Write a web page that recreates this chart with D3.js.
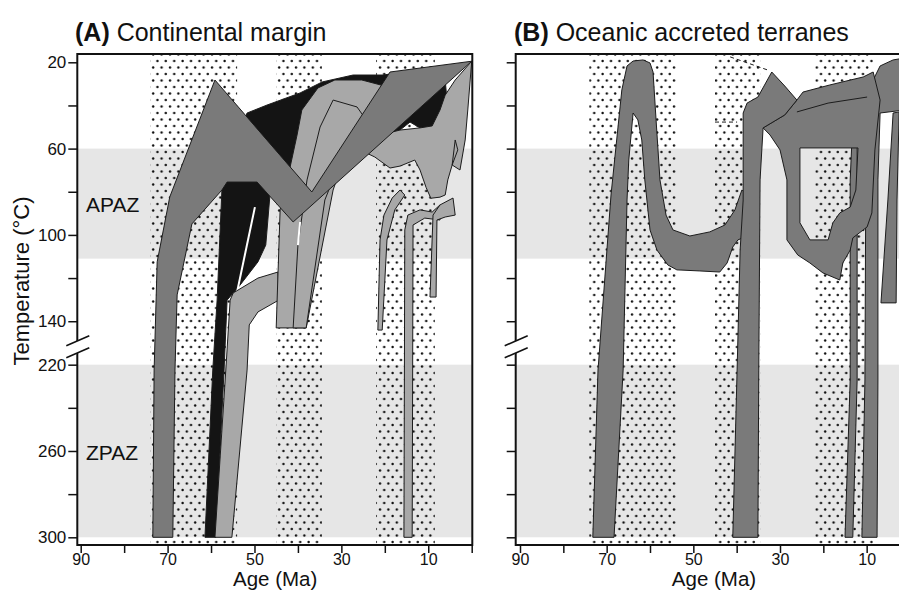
<!DOCTYPE html>
<html><head><meta charset="utf-8">
<script src="https://cdn.jsdelivr.net/npm/d3@7"></script>
<style>body{margin:0;background:#fff}svg{display:block;font-family:"Liberation Sans",Arial,Helvetica,sans-serif}</style>
</head><body><svg id="c" width="899" height="590"></svg>
<script>
// ---------- data ----------
const xTicks=[90,80,70,60,50,40,30,20,10,0];
const xLabels=[90,70,50,30,10];
const yTicks=[20,40,60,80,100,120,140,220,240,260,280,300];
const yLabels=[20,60,100,140,220,260,300];
const zoneNames=["APAZ","ZPAZ"];
const zoneTop=[60,220];
const zoneBottom=[111,300];
const zoneLabelT=[86.1,260.5];
const stippleOld=[74,45,22];
const stippleYoung=[54,34.5,8.5];
const panelTitles=[["(A)"," Continental margin"],["(B)"," Oceanic accreted terranes"]];

// Panel A paths [Ma, °C]
const contBlack=[[61.4,300],[59.6,222.5],[58.6,130.2],[57.5,79.2],[55.2,60.6],[51.7,43.5],[47.1,39.8],[39.5,34.2],[34.4,29.1],[27.3,25.9],[20.4,25.9],[11.9,23.6],[6.1,28.2],[5.7,37.5],[7.3,44.4],[9.1,49.5],[11.9,50.4],[14.2,47.7],[16.5,51.4],[23.4,60.6],[31.5,65.3],[39.5,83.8],[46.4,80.6],[47.4,104.7],[49.2,112.5],[53.3,123.2],[56.3,130.2],[57.0,222.5],[58.9,300]];
const contBlackGap=[[49.9,87.1],[54.0,126.4]];
const contLightLower=[[59.1,300],[56.6,222.5],[55.6,130.2],[54.9,126.9],[49.2,120.0],[44.6,117.2],[44.4,130.2],[49.2,135.7],[51.2,141.7],[51.7,222.5],[55.2,300]];
const contLightMid=[[45.0,143.1],[44.1,88.4],[42.7,76.9],[40.2,53.7],[39.1,42.1],[35.4,31.9],[31.5,28.2],[25.3,28.2],[20.0,31.0],[18.8,37.5],[23.4,42.1],[28.0,56.0],[31.9,79.2],[38.1,143.1]];
const contLightMid2=[[41.1,143.1],[40.0,104.7],[37.9,74.5],[34.9,50.0],[31.9,37.5],[26.4,40.7],[24.6,45.8],[29.2,60.6],[33.8,83.8],[38.1,143.1]];
const contLightMidGap=[[39.5,94.0],[40.0,104.7]];
const contLightR1=[[21.6,144.1],[21.1,102.3],[20.2,90.8],[18.3,82.9],[16.5,79.2],[15.4,81.5],[17.7,88.4],[19.5,102.3],[20.6,144.1]];
const contLightR2=[[15.6,300],[15.4,97.7],[14.7,90.8],[11.9,88.4],[9.1,89.4],[7.3,86.1],[7.3,93.1],[10.8,92.2],[13.5,95.4],[13.7,300]];
const contLightR3=[[9.6,128.8],[8.9,90.8],[7.3,86.1],[4.3,82.9],[3.8,90.8],[6.1,91.7],[8.0,93.1],[8.2,128.8]];
const contLightBody=[[25.7,60.6],[22.3,63.9],[18.8,69.0],[16.5,68.1],[13.1,65.3],[11.9,69.9],[10.5,78.0],[9.4,83.0],[7.3,82.5],[6.1,81.5],[5.5,74.5],[4.5,67.6],[3.2,60.6],[3.8,56.0],[4.5,67.6],[2.7,69.9],[1.5,56.0],[0.9,42.1],[0,19.5],[3.8,28.2],[6.1,35.2],[7.3,42.1],[9.1,49.5],[11.9,50.4],[16.5,51.4],[21.1,53.7]];
const contGray=[[73.4,300],[73.1,222.5],[72.4,112.5],[69.5,82.4],[59.1,28.2],[36.8,80.1],[18.8,24.5],[0,19.5],[41.1,94.0],[49.4,75.5],[56.3,75.5],[57.5,79.2],[64.4,94.9],[67.8,127.8],[68.3,222.5],[68.8,300]];

// Panel B paths [Ma, °C]
const oceU=[[73.2,300],[72.0,222.5],[69.0,81.5],[66.5,32.8],[65.3,21.7],[63.9,19.4],[61.6,18.9],[60.0,20.3],[59.3,24.5],[58.6,46.7],[57.7,74.5],[56.3,90.8],[54.7,97.7],[50.8,100.5],[46.2,98.6],[42.7,95.4],[40.4,88.4],[38.8,79.2],[36.9,81.5],[36.9,100.0],[39.7,102.3],[40.9,105.6],[42.2,113.0],[43.9,117.2],[48.5,116.7],[53.8,116.2],[55.9,113.9],[58.4,107.0],[60.0,97.7],[61.2,74.5],[61.9,56.0],[62.8,46.7],[63.9,43.5],[64.9,65.3],[65.3,83.8],[66.2,222.5],[68.3,300]];
const oceMid=[[40.9,300],[39.9,222.5],[39.2,107.0],[38.5,83.8],[38.5,43.5],[37.6,38.9],[35.1,36.1],[31.9,24.5],[28.9,31.0],[26.1,37.5],[28.9,44.4],[33.9,50.4],[34.6,74.5],[34.9,222.5],[35.1,300]];
const oceRing=[[33.9,50.4],[32.3,53.7],[30.0,60.6],[28.4,74.5],[28.4,102.3],[25.9,109.3],[23.1,113.0],[20.1,117.6],[16.2,120.9],[15.5,113.0],[13.8,107.0],[13.2,101.4],[9.9,96.3],[8.8,89.8],[8.1,60.6],[6.9,37.5],[8.5,24.5],[10.8,26.8],[18.5,30.5],[24.7,33.8],[26.1,37.5],[28.9,44.4]];
const oceRingHole=[[25.4,59.7],[25.4,94.4],[23.1,102.3],[18.9,102.3],[17.8,94.4],[16.2,89.8],[13.8,87.1],[12.5,79.2],[12.0,59.7]];
const oceRingLine=[[26.1,43.0],[18.9,38.9],[9.9,36.1]];
const oceLeg1=[[15.0,300],[13.8,227.1],[13.8,74.5],[13.2,46.7],[12.2,46.7],[12.2,227.1],[13.2,300]];
const oceLeg2=[[11.1,300],[10.4,227.1],[10.2,74.5],[9.7,42.1],[8.5,28.2],[6.9,21.7],[3.9,18.9],[1.2,18.0],[1.2,42.1],[6.9,43.5],[7.4,74.5],[7.4,227.1],[7.6,300]];
const oceLeg3=[[6.7,131.5],[5.1,83.8],[3.9,43.5],[2.5,43.0],[3.0,83.8],[3.2,131.5]];
const oceDash1=[[41.5,17.5],[32.8,23.6]];
const oceDash2=[[45.0,47.7],[39.9,47.7]];

// ---------- drawing ----------
const svg=d3.select("#c");
const C={zone:"#e6e6e6",dark:"#7a7a7a",light:"#a8a8a8",black:"#141414",edge:"#1c1c1c"};
const defs=svg.append("defs");
const pat=defs.append("pattern").attr("id","dots").attr("patternUnits","userSpaceOnUse").attr("width",8.4).attr("height",13);
pat.append("circle").attr("cx",2).attr("cy",2.5).attr("r",1.2).attr("fill","#111");
pat.append("circle").attr("cx",6.2).attr("cy",9).attr("r",1.2).attr("fill","#111");

const y=d3.scaleLinear().domain([20,150,210,300]).range([62.3,342.8,343.1,537.3]);
const fTop=54,fBottom=545;

const panels=[
 {id:"A",x:d3.scaleLinear().domain([90,0]).range([80.7,471.7]),left:77.3,right:472.3,titleX:75,labels:true},
 {id:"B",x:d3.scaleLinear().domain([90,0]).range([520,910]),left:515.7,right:911,titleX:514,labels:false}
];

panels.forEach((p,pi)=>{
  const g=svg.append("g");
  const clipId="clip"+p.id;
  defs.append("clipPath").attr("id",clipId).append("rect")
    .attr("x",p.left).attr("y",fTop).attr("width",p.right-p.left).attr("height",fBottom-fTop);
  const body=g.append("g").attr("clip-path",`url(#${clipId})`);
  zoneNames.forEach((n,i)=>{
    body.append("rect").attr("x",p.left).attr("width",p.right-p.left)
      .attr("y",y(zoneTop[i])).attr("height",y(zoneBottom[i])-y(zoneTop[i])).attr("fill",C.zone);
  });
  stippleOld.forEach((a,i)=>{
    body.append("rect").attr("x",p.x(a)).attr("width",p.x(stippleYoung[i])-p.x(a))
      .attr("y",fTop).attr("height",fBottom-fTop).attr("fill","url(#dots)");
  });
  const line=d3.line().x(d=>p.x(d[0])).y(d=>y(d[1]));
  const poly=(pts,fill,sw=1)=>body.append("path").attr("d",line(pts)+"Z").attr("fill",fill)
      .attr("stroke",C.edge).attr("stroke-width",sw).attr("stroke-linejoin","round");
  const pl=(pts,stroke,sw,dash)=>body.append("path").attr("d",line(pts)).attr("fill","none")
      .attr("stroke",stroke).attr("stroke-width",sw).attr("stroke-dasharray",dash||null);
  if(p.id==="A"){
    poly(contBlack,C.black);
    pl(contBlackGap,"#fff",2);
    poly(contLightLower,C.light);
    poly(contLightBody,C.light);
    poly(contLightMid,C.light);
    poly(contLightMid2,C.light);
    pl(contLightMidGap,"#fff",2);
    poly(contLightR1,C.light);
    poly(contLightR2,C.light);
    poly(contLightR3,C.light);
    poly(contGray,C.dark);
  } else {
    poly(oceLeg1,C.dark);
    poly(oceLeg2,C.dark);
    poly(oceLeg3,C.dark);
    body.append("path").attr("d",line(oceRing)+"Z"+line(oceRingHole)+"Z").attr("fill-rule","evenodd")
      .attr("fill",C.dark).attr("stroke",C.edge).attr("stroke-width",1);
    pl(oceRingLine,C.edge,1);
    poly(oceU,C.dark);
    poly(oceMid,C.dark);
    pl(oceDash1,C.edge,1,"4,3");
    pl(oceDash2,C.edge,1,"4,3");
  }
  g.append("rect").attr("x",p.left).attr("y",fTop).attr("width",p.right-p.left).attr("height",fBottom-fTop)
    .attr("fill","none").attr("stroke","#111").attr("stroke-width",2);
  const ax=d3.axisBottom(p.x).tickValues(xTicks).tickSize(8).tickPadding(1)
    .tickFormat(d=>xLabels.includes(d)?d:"");
  const gx=g.append("g").attr("transform",`translate(0,${fBottom})`).call(ax);
  gx.select(".domain").remove();
  gx.selectAll("line").attr("stroke","#111").attr("stroke-width",1.5);
  gx.selectAll("text").attr("font-size",16).attr("fill","#111").attr("font-family","Liberation Sans, Arial, sans-serif");
  const ay=d3.axisLeft(y).tickValues(yTicks).tickSize(9).tickPadding(2)
    .tickFormat(d=>p.labels&&yLabels.includes(d)?d:"");
  const gy=g.append("g").attr("transform",`translate(${p.left},0)`).call(ay);
  gy.select(".domain").remove();
  gy.selectAll("line").attr("stroke","#111").attr("stroke-width",1.5);
  gy.selectAll("text").attr("font-size",17).attr("fill","#111").attr("font-family","Liberation Sans, Arial, sans-serif");
  const bx=p.left, yb=y(150);
  g.append("path").attr("d",`M${bx-11},${yb+3}L${bx+12},${yb-7}L${bx+12},${yb+5}L${bx-11},${yb+15}Z`).attr("fill","#fff");
  [yb+3,yb+15].forEach(v=>g.append("line").attr("x1",bx-11).attr("y1",v).attr("x2",bx+12).attr("y2",v-10)
     .attr("stroke","#111").attr("stroke-width",1.6));
  if(p.labels){
    zoneNames.forEach((n,i)=>g.append("text").attr("x",86).attr("y",y(zoneLabelT[i])+7.5)
      .attr("font-size",21).attr("fill","#111").text(n));
  }
  const t=g.append("text").attr("x",p.titleX).attr("y",41).attr("font-size",25).attr("fill","#111");
  t.append("tspan").attr("font-weight","bold").text(panelTitles[pi][0]);
  t.append("tspan").text(panelTitles[pi][1]);
  g.append("text").attr("x",(p.x(90)+p.x(0))/2-1).attr("y",585.7).attr("text-anchor","middle")
    .attr("font-size",20.5).attr("fill","#111").text("Age (Ma)");
});
svg.append("text").attr("transform","translate(29,281) rotate(-90)").attr("text-anchor","middle")
  .attr("font-size",22).attr("fill","#111").text("Temperature (°C)");
</script></body></html>
